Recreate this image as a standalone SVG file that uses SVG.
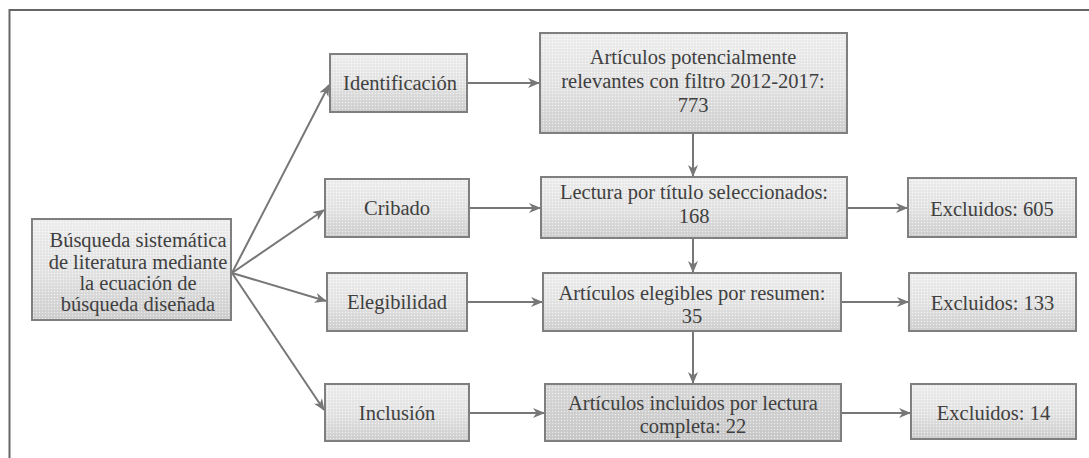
<svg xmlns="http://www.w3.org/2000/svg" width="1089" height="458" viewBox="0 0 1089 458">
  <defs>
    <linearGradient id="g" x1="0" y1="0" x2="0" y2="1">
      <stop offset="0" stop-color="#f0f0f0"/>
      <stop offset="0.55" stop-color="#e4e4e4"/>
      <stop offset="1" stop-color="#cfcfcf"/>
    </linearGradient>
    <linearGradient id="gd" x1="0" y1="0" x2="0" y2="1">
      <stop offset="0" stop-color="#dadada"/>
      <stop offset="1" stop-color="#c9c9c9"/>
    </linearGradient>
    <pattern id="dots" width="3" height="3" patternUnits="userSpaceOnUse">
      <rect x="0" y="0" width="1" height="1" fill="#ffffff" opacity="0.6"/>
      <rect x="1.5" y="1.5" width="1" height="1" fill="#9a9a9a" opacity="0.25"/>
    </pattern>
    <marker id="ah" viewBox="0 0 12 10" refX="11" refY="5" markerWidth="12" markerHeight="10" markerUnits="userSpaceOnUse" orient="auto">
      <path d="M0,0 L12,5 L0,10 L3.5,5 z" fill="#777777"/>
    </marker>
    <style>
      .box { fill: url(#g); stroke: #7f7f7f; stroke-width: 2; }
      .boxd { fill: url(#gd); stroke: #7f7f7f; stroke-width: 2; }
      .tex { fill: url(#dots); stroke: none; }
      text { font-family: 'Liberation Serif', 'DejaVu Serif', serif; font-size: 20.5px; fill: #404040; text-anchor: middle; }
      .c { stroke: #777777; stroke-width: 2; fill: none; marker-end: url(#ah); }
      .frame { stroke: #666666; stroke-width: 2; fill: none; }
    </style>
  </defs>

  <rect width="1089" height="458" fill="#ffffff"/>
  <path class="frame" d="M9.5,458 V10 H1089"/>

  <g id="connectors">
    <line class="c" x1="232" y1="273" x2="329" y2="85"/>
    <line class="c" x1="232" y1="273" x2="324" y2="210"/>
    <line class="c" x1="232" y1="273" x2="326" y2="301"/>
    <line class="c" x1="232" y1="273" x2="324" y2="410"/>
    <line class="c" x1="467" y1="83" x2="539" y2="83"/>
    <line class="c" x1="469" y1="208" x2="540" y2="208"/>
    <line class="c" x1="467" y1="302" x2="542" y2="302"/>
    <line class="c" x1="469" y1="413" x2="544" y2="413"/>
    <line class="c" x1="693" y1="133" x2="693" y2="176"/>
    <line class="c" x1="693" y1="238" x2="693" y2="272"/>
    <line class="c" x1="693" y1="331" x2="693" y2="383"/>
    <line class="c" x1="847" y1="208" x2="907" y2="208"/>
    <line class="c" x1="841" y1="302" x2="908" y2="302"/>
    <line class="c" x1="841" y1="413" x2="910" y2="413"/>
  </g>

  <g id="n-busqueda" font-family="Liberation Serif, DejaVu Serif, serif">
    <rect class="box" x="32" y="219" width="199" height="101"/>
    <rect class="tex" x="33" y="220" width="197" height="99"/>
    <text x="138" y="247">Búsqueda sistemática</text>
    <text x="138" y="269">de literatura mediante</text>
    <text x="138" y="290">la ecuación de</text>
    <text x="138" y="311">búsqueda diseñada</text>
  </g>

  <g id="n-identificacion">
    <rect class="box" x="330" y="54" width="137" height="58"/>
    <rect class="tex" x="331" y="55" width="135" height="56"/>
    <text x="400" y="90">Identificación</text>
  </g>

  <g id="n-cribado">
    <rect class="box" x="325" y="179" width="144" height="58"/>
    <rect class="tex" x="326" y="180" width="142" height="56"/>
    <text x="397" y="215">Cribado</text>
  </g>

  <g id="n-elegibilidad">
    <rect class="box" x="327" y="273" width="140" height="58"/>
    <rect class="tex" x="328" y="274" width="138" height="56"/>
    <text x="397" y="309">Elegibilidad</text>
  </g>

  <g id="n-inclusion">
    <rect class="box" x="325" y="384" width="144" height="57"/>
    <rect class="tex" x="326" y="385" width="142" height="55"/>
    <text x="397" y="420">Inclusión</text>
  </g>

  <g id="n-potenciales">
    <rect class="box" x="540" y="33" width="307" height="100"/>
    <rect class="tex" x="541" y="34" width="305" height="98"/>
    <text x="693" y="64">Artículos potencialmente</text>
    <text x="693" y="88">relevantes con filtro 2012-2017:</text>
    <text x="693" y="112">773</text>
  </g>

  <g id="n-titulo">
    <rect class="box" x="541" y="177" width="306" height="61"/>
    <rect class="tex" x="542" y="178" width="304" height="59"/>
    <text x="694" y="199">Lectura por título seleccionados:</text>
    <text x="694" y="223">168</text>
  </g>

  <g id="n-resumen">
    <rect class="box" x="543" y="273" width="298" height="58"/>
    <rect class="tex" x="544" y="274" width="296" height="56"/>
    <text x="692" y="300">Artículos elegibles por resumen:</text>
    <text x="692" y="323">35</text>
  </g>

  <g id="n-incluidos">
    <rect class="boxd" x="545" y="384" width="296" height="57"/>
    <rect class="tex" x="546" y="385" width="294" height="55"/>
    <text x="693" y="410">Artículos incluidos por lectura</text>
    <text x="693" y="433">completa: 22</text>
  </g>

  <g id="n-excl605">
    <rect class="box" x="908" y="178" width="168" height="59"/>
    <rect class="tex" x="909" y="179" width="166" height="57"/>
    <text x="992" y="216">Excluidos: 605</text>
  </g>

  <g id="n-excl133">
    <rect class="box" x="909" y="273" width="167" height="58"/>
    <rect class="tex" x="910" y="274" width="165" height="56"/>
    <text x="992.5" y="310">Excluidos: 133</text>
  </g>

  <g id="n-excl14">
    <rect class="box" x="911" y="384" width="165" height="55"/>
    <rect class="tex" x="912" y="385" width="163" height="53"/>
    <text x="993.5" y="420">Excluidos: 14</text>
  </g>
</svg>
